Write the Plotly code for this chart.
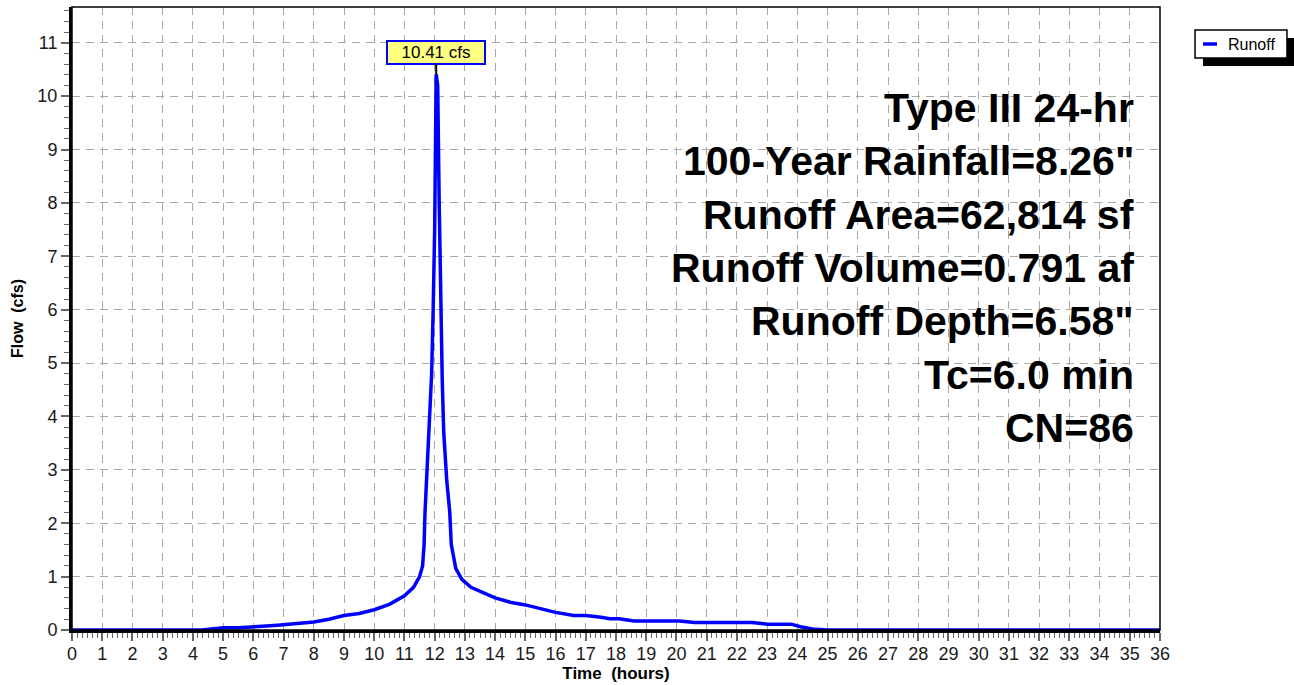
import plotly.graph_objects as go

# ---- data ----
time_hr = [0, 4.3, 4.6, 5.0, 5.5, 6.0, 6.3, 6.8, 7.0, 7.5, 8.0, 8.5, 9.0, 9.5, 10.0,
           10.5, 11.0, 11.3, 11.5, 11.6, 11.65, 11.68, 11.8, 11.9, 11.95, 12.0, 12.05,
           12.1, 12.15, 12.2, 12.25, 12.3, 12.4, 12.5, 12.55, 12.7, 12.9, 13.2, 13.5,
           14.0, 14.5, 15.0, 15.5, 16.0, 16.6, 17.0, 17.5, 17.8, 18.1, 18.6, 19.0,
           20.1, 20.6, 21.0, 22.0, 22.5, 23.0, 23.8, 24.1, 24.5, 25.0, 36.0]
flow_cfs = [0, 0, 0.02, 0.04, 0.04, 0.05, 0.07, 0.09, 0.10, 0.11, 0.15, 0.20, 0.27, 0.31, 0.38,
            0.48, 0.64, 0.80, 1.00, 1.20, 1.60, 2.20, 3.50, 4.80, 6.00, 7.50, 10.41,
            10.20, 8.00, 6.20, 4.70, 3.70, 2.80, 2.20, 1.60, 1.15, 0.95, 0.80, 0.72,
            0.60, 0.52, 0.47, 0.40, 0.33, 0.27, 0.27, 0.24, 0.21, 0.21, 0.17, 0.17,
            0.17, 0.14, 0.14, 0.14, 0.14, 0.11, 0.11, 0.06, 0.02, 0.0, 0.0]
peak_time = 12.05
peak_flow = 10.41
peak_label = "10.41 cfs"
series_name = "Runoff"
info_lines = ["Type III 24-hr", "100-Year Rainfall=8.26\"", "Runoff Area=62,814 sf",
              "Runoff Volume=0.791 af", "Runoff Depth=6.58\"", "Tc=6.0 min", "CN=86"]
x_ticks = list(range(0, 37))
y_ticks = list(range(0, 12))

FONT = "Arial, 'Liberation Sans', sans-serif"
BLUE = "#0000FF"

fig = go.Figure()
fig.add_trace(go.Scatter(
    x=time_hr, y=flow_cfs, mode="lines", name=series_name,
    line=dict(color=BLUE, width=3.5), showlegend=False,
))

# peak label
fig.add_annotation(
    x=peak_time, y=peak_flow, xref="x", yref="y", text=peak_label,
    showarrow=True, arrowhead=0, arrowwidth=2, arrowcolor="black",
    ax=0, ay=-22, bgcolor="#FFFF80", bordercolor=BLUE, borderwidth=2,
    borderpad=1, font=dict(family=FONT, size=17, color="black"), width=94,
)

# info block
for i, line in enumerate(info_lines):
    fig.add_annotation(
        x=0.9775, y=9.78 - i, xref="paper", yref="y", text="<b>%s</b>" % line,
        showarrow=False, xanchor="right", yanchor="middle",
        font=dict(family=FONT, size=41, color="black"),
    )

# frame (thin top/right border)
fig.add_shape(type="rect", xref="paper", yref="paper", x0=0, x1=1, y0=0, y1=1,
              line=dict(color="black", width=1.5), layer="above")

# legend (box with drop shadow)
fig.add_shape(type="rect", xref="paper", yref="paper",
              x0=1.0395, x1=1.1241, y0=0.9053, y1=0.9502,
              fillcolor="black", line=dict(width=0), layer="above")
fig.add_shape(type="rect", xref="paper", yref="paper",
              x0=1.0322, x1=1.1167, y0=0.9181, y1=0.9631,
              fillcolor="white", line=dict(color="black", width=1.5), layer="above")
fig.add_shape(type="line", xref="paper", yref="paper",
              x0=1.0395, x1=1.0524, y0=0.9406, y1=0.9406,
              line=dict(color=BLUE, width=3.5), layer="above")
fig.add_annotation(x=1.0607, y=0.9406, xref="paper", yref="paper", text=series_name,
                   showarrow=False, xanchor="left", yanchor="middle",
                   font=dict(family=FONT, size=16, color="black"))

fig.update_xaxes(
    range=[0, 36], tickmode="array", tickvals=x_ticks, ticktext=[str(v) for v in x_ticks],
    showgrid=True, gridcolor="#A8A8A8", griddash="8px,6px", gridwidth=1,
    ticks="outside", ticklen=8, tickcolor="#666666", tickwidth=1.5,
    minor=dict(dtick=1/6, ticks="outside", ticklen=5, tickcolor="#666666", tickwidth=1, showgrid=False),
    showline=True, linecolor="black", linewidth=3, zeroline=False,
    tickfont=dict(family=FONT, size=18, color="#1a1a1a"), ticklabelstandoff=-3,
    title=dict(text="<b>Time\u00a0\u00a0(hours)</b>", font=dict(family=FONT, size=17, color="black"), standoff=0),
)
fig.update_yaxes(
    range=[0, 11.67], tickmode="array", tickvals=y_ticks, ticktext=[str(v) for v in y_ticks],
    showgrid=True, gridcolor="#A8A8A8", griddash="8px,6px", gridwidth=1,
    ticks="outside", ticklen=8, tickcolor="#666666", tickwidth=1.5,
    minor=dict(dtick=0.2, ticks="outside", ticklen=5, tickcolor="#666666", tickwidth=1, showgrid=False),
    showline=True, linecolor="black", linewidth=3, zeroline=False,
    tickfont=dict(family=FONT, size=18, color="#1a1a1a"),
    title=dict(text="<b>Flow\u00a0\u00a0(cfs)</b>", font=dict(family=FONT, size=16, color="black"), standoff=10),
)

fig.update_layout(
    width=1294, height=685,
    margin=dict(l=72, r=134, t=7, b=55),
    paper_bgcolor="white", plot_bgcolor="white",
    showlegend=False,
    font=dict(family=FONT),
)

fig.write_html("out.html", post_script="document.body.style.margin='0';",
               config={"displayModeBar": False})
